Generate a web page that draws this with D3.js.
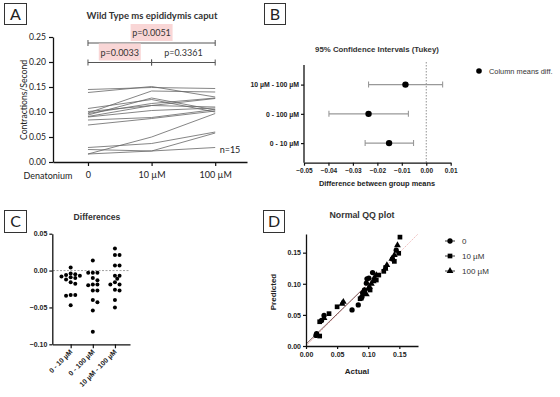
<!DOCTYPE html>
<html>
<head>
<meta charset="utf-8">
<script src="https://cdn.jsdelivr.net/npm/d3@7"></script>
<style>
  body { margin: 0; background: #fff; }
  svg { display: block; }
</style>
</head>
<body>
<div id="chart"></div>
<script>
// ---- data ----
// Panel A: contractions/second for each animal at 0, 10 µM, 100 µM
const doseLabels = ['0', '10 µM', '100 µM'];
const yTicksA = [0, 0.05, 0.10, 0.15, 0.20, 0.25];
const contractions = [
  [0.145, 0.149, 0.147],
  [0.139, 0.151, 0.130],
  [0.098, 0.142, 0.140],
  [0.107, 0.125, 0.100],
  [0.094, 0.128, 0.104],
  [0.101, 0.113, 0.127],
  [0.097, 0.117, 0.128],
  [0.091, 0.113, 0.110],
  [0.090, 0.103, 0.108],
  [0.084, 0.089, 0.105],
  [0.074, 0.087, 0.102],
  [0.016, 0.050, 0.097],
  [0.029, 0.037, 0.060],
  [0.025, 0.022, 0.058],
  [0.016, 0.022, 0.029]
];
// multiple comparisons brackets (level = height in data units)
const comparisons = [
  { from: 0, to: 2, label: 'p=0.0051', highlight: true, level: 0.238 },
  { from: 0, to: 1, label: 'p=0.0033', highlight: true, level: 0.199 },
  { from: 1, to: 2, label: 'p=0.3361', highlight: false, level: 0.199 }
];

// Panel B: Tukey 95% CI
const pairLabels = ['10 µM - 100 µM', '0 - 100 µM', '0 - 10 µM'];
const meanDiff = [-0.0085, -0.0236, -0.0152];
const ciLow = [-0.0236, -0.0398, -0.0250];
const ciHigh = [0.0067, -0.0073, -0.0052];
const xTicksB = [-0.05, -0.04, -0.03, -0.02, -0.01, 0.00, 0.01];

// Panel C: paired differences
const diffLabels = ['0 - 10 µM', '0 - 100 µM', '10 µM - 100 µM'];
const diff0_10 = [0.004, -0.004, -0.005, -0.006, -0.007, -0.008, -0.009, -0.010, -0.012, -0.016, -0.018, -0.033, -0.033, -0.034, -0.047];
const diff0_100 = [0.0135, -0.003, -0.003, -0.003, -0.010, -0.013, -0.019, -0.019, -0.020, -0.027, -0.027, -0.040, -0.043, -0.054, -0.083];
const diff10_100 = [0.030, 0.021, 0.021, 0.007, 0.007, -0.007, -0.007, -0.011, -0.016, -0.019, -0.019, -0.026, -0.027, -0.040, -0.050];
const yTicksC = [-0.10, -0.05, 0.00, 0.05];

// Panel D: normal QQ plot, [actual, predicted]
const qq0 = [[0.017, 0.020], [0.016, 0.017], [0.025, 0.041], [0.029, 0.049], [0.074, 0.058], [0.084, 0.066], [0.090, 0.079], [0.091, 0.085], [0.094, 0.090], [0.097, 0.101], [0.098, 0.108], [0.101, 0.109], [0.107, 0.118], [0.139, 0.140], [0.145, 0.154]];
const qq10 = [[0.022, 0.016], [0.022, 0.039], [0.037, 0.052], [0.050, 0.063], [0.087, 0.076], [0.089, 0.077], [0.093, 0.086], [0.103, 0.090], [0.113, 0.106], [0.117, 0.114], [0.125, 0.120], [0.128, 0.126], [0.142, 0.136], [0.149, 0.149], [0.151, 0.175]];
const qq100 = [[0.029, 0.045], [0.058, 0.068], [0.060, 0.071], [0.097, 0.083], [0.100, 0.092], [0.102, 0.095], [0.105, 0.100], [0.108, 0.104], [0.110, 0.110], [0.113, 0.114], [0.127, 0.124], [0.130, 0.130], [0.138, 0.140], [0.142, 0.146], [0.147, 0.162]];
const qqTicks = [0, 0.05, 0.10, 0.15];
const identityLine = [[0, 0], [0.18, 0.18]];
const fitLine = [[0, 0.003], [0.095, 0.095]];

// ---- drawing ----
const calibri = 'Lato, "Open Sans", sans-serif';
const arial = '"Liberation Sans", Arial, sans-serif';
const f2 = d3.format('.2f');

const svg = d3.select('#chart').append('svg')
  .attr('width', 560)
  .attr('height', 397);

// panel letter boxes
const boxes = [
  { t: 'A', x: 4, y: 3, w: 22, h: 21 },
  { t: 'B', x: 264, y: 3, w: 21, h: 21 },
  { t: 'C', x: 4, y: 210, w: 22, h: 22 },
  { t: 'D', x: 263, y: 210, w: 21, h: 22 }
];
boxes.forEach(b => {
  svg.append('rect').attr('x', b.x + 0.5).attr('y', b.y + 0.5)
    .attr('width', b.w).attr('height', b.h)
    .attr('fill', '#fff').attr('stroke', '#333').attr('stroke-width', 1);
  svg.append('text').attr('x', b.x + b.w / 2 + 0.5).attr('y', b.y + b.h / 2 + 6)
    .attr('text-anchor', 'middle').attr('font-family', calibri)
    .attr('font-size', 16).attr('fill', '#222').text(b.t);
});

function styleAxis(g, font, size, weight) {
  g.select('.domain').attr('stroke', '#111').attr('stroke-width', 1.3);
  g.selectAll('.tick line').attr('stroke', '#111').attr('stroke-width', 1.2);
  g.selectAll('.tick text').attr('font-family', font).attr('font-size', size)
    .attr('font-weight', weight).attr('fill', '#222');
}

// ---------- Panel A ----------
{
  const x = d3.scaleLinear().domain([-0.55, 2.5]).range([53, 247]);
  const y = d3.scaleLinear().domain([0, 0.25]).range([162, 37]);
  const g = svg.append('g');

  g.append('text').attr('x', 152).attr('y', 19).attr('text-anchor', 'middle')
    .attr('font-family', calibri).attr('font-weight', 'bold').attr('font-size', 9.5)
    .attr('fill', '#333').text('Wild Type ms epididymis caput');

  const line = d3.line().x((d, i) => x(i)).y(d => y(d));
  g.selectAll('.subject').data(contractions).enter().append('path')
    .attr('class', 'subject')
    .attr('d', line)
    .attr('fill', 'none')
    .attr('stroke', '#666')
    .attr('stroke-width', 0.8);

  const ya = g.append('g').attr('transform', 'translate(53,0)')
    .call(d3.axisLeft(y).tickValues(yTicksA).tickFormat(f2).tickSize(4).tickSizeOuter(0).tickPadding(3));
  styleAxis(ya, calibri, 8.6, 'normal');

  const xa = g.append('g').attr('transform', 'translate(0,162)')
    .call(d3.axisBottom(x).tickValues([0, 1, 2]).tickFormat(i => doseLabels[i]).tickSize(4).tickSizeOuter(0).tickPadding(6));
  styleAxis(xa, calibri, 9, 'normal');

  g.append('text').attr('x', 48).attr('y', 178.5).attr('text-anchor', 'middle')
    .attr('font-family', calibri).attr('font-size', 9).attr('fill', '#222').text('Denatonium');

  g.append('text').attr('transform', 'translate(27,100) rotate(-90)')
    .attr('text-anchor', 'middle').attr('font-family', calibri).attr('font-size', 8.6)
    .attr('fill', '#222').text('Contractions/Second');

  g.append('text').attr('x', 230).attr('y', 153).attr('text-anchor', 'middle')
    .attr('font-family', calibri).attr('font-size', 9).attr('fill', '#222').text('n=15');

  // comparison brackets
  comparisons.forEach(c => {
    const x1 = x(c.from), x2 = x(c.to), yy = y(c.level);
    g.append('path')
      .attr('d', `M${x1},${yy - 3}V${yy + 3}M${x1},${yy}H${x2}M${x2},${yy - 3}V${yy + 3}`)
      .attr('fill', 'none').attr('stroke', '#555').attr('stroke-width', 1);
    const cx = (x1 + x2) / 2;
    if (c.highlight) {
      g.append('rect').attr('x', cx - 21).attr('y', yy - 19)
        .attr('width', 42).attr('height', 17).attr('fill', '#f9d6d6');
    }
    g.append('text').attr('x', cx).attr('y', yy - 7).attr('text-anchor', 'middle')
      .attr('font-family', calibri).attr('font-size', 9).attr('fill', '#333').text(c.label);
  });
}

// ---------- Panel B ----------
{
  const x = d3.scaleLinear().domain([-0.05, 0.01]).range([304, 450.7]);
  const y = d3.scalePoint().domain(pairLabels).range([65, 162.7]).padding(0.67);
  const g = svg.append('g');

  g.append('text').attr('x', 377).attr('y', 52).attr('text-anchor', 'middle')
    .attr('font-family', arial).attr('font-weight', 'bold').attr('font-size', 7.8)
    .attr('fill', '#333').text('95% Confidence Intervals (Tukey)');

  // zero reference
  g.append('line').attr('x1', x(0)).attr('x2', x(0)).attr('y1', 62).attr('y2', 162.7)
    .attr('stroke', '#777').attr('stroke-width', 0.8).attr('stroke-dasharray', '1.5,1.5');

  const rows = pairLabels.map((p, i) => ({ p, m: meanDiff[i], lo: ciLow[i], hi: ciHigh[i] }));
  g.selectAll('.ci').data(rows).enter().append('path')
    .attr('class', 'ci')
    .attr('d', d => {
      const yy = y(d.p);
      return `M${x(d.lo)},${yy - 3}V${yy + 3}M${x(d.lo)},${yy}H${x(d.hi)}M${x(d.hi)},${yy - 3}V${yy + 3}`;
    })
    .attr('fill', 'none').attr('stroke', '#999').attr('stroke-width', 1.1);
  g.selectAll('.mean').data(rows).enter().append('circle')
    .attr('class', 'mean')
    .attr('cx', d => x(d.m)).attr('cy', d => y(d.p)).attr('r', 3.2).attr('fill', '#000');

  const xa = g.append('g').attr('transform', 'translate(0,162.7)')
    .call(d3.axisBottom(x).tickValues(xTicksB).tickFormat(f2).tickSize(3).tickSizeOuter(0).tickPadding(3));
  styleAxis(xa, arial, 6.5, 'bold');
  const ya = g.append('g').attr('transform', 'translate(304,0)')
    .call(d3.axisLeft(y).tickSize(3).tickSizeOuter(0).tickPadding(2));
  ya.select('.domain').attr('d', 'M0,65V162.7');
  styleAxis(ya, arial, 6.9, 'bold');

  g.append('text').attr('x', 377).attr('y', 186).attr('text-anchor', 'middle')
    .attr('font-family', arial).attr('font-weight', 'bold').attr('font-size', 7.4)
    .attr('fill', '#222').text('Difference between group means');

  g.append('circle').attr('cx', 479).attr('cy', 71).attr('r', 2.8).attr('fill', '#000');
  g.append('text').attr('x', 489).attr('y', 73.5).attr('font-family', arial)
    .attr('font-size', 7.4).attr('fill', '#333').text('Column means diff.');
}

// ---------- Panel C ----------
{
  const x = d3.scaleLinear().domain([-0.83, 2.68]).range([52.3, 130]);
  const y = d3.scaleLinear().domain([-0.10, 0.05]).range([344.3, 233.7]);
  const g = svg.append('g');

  g.append('text').attr('x', 97).attr('y', 220).attr('text-anchor', 'middle')
    .attr('font-family', arial).attr('font-weight', 'bold').attr('font-size', 8.6)
    .attr('fill', '#333').text('Differences');

  g.append('line').attr('x1', 53).attr('x2', 130).attr('y1', y(0)).attr('y2', y(0))
    .attr('stroke', '#888').attr('stroke-width', 0.8).attr('stroke-dasharray', '2,1.5');

  // simple beeswarm so that equal values sit side by side
  function swarm(values, col) {
    const placed = [];
    values.slice().sort((a, b) => b - a).forEach(v => {
      const py = y(v);
      for (let k = 0; k < 20; k++) {
        const off = (k % 2 ? 1 : -1) * Math.ceil(k / 2) * 2.3;
        const px = x(col) + off;
        if (placed.every(p => Math.hypot(p.x - px, p.y - py) >= 3.3)) {
          placed.push({ x: px, y: py });
          break;
        }
      }
    });
    return placed;
  }
  [diff0_10, diff0_100, diff10_100].forEach((vals, col) => {
    g.selectAll(null).data(swarm(vals, col)).enter().append('circle')
      .attr('cx', d => d.x).attr('cy', d => d.y).attr('r', 2).attr('fill', '#000');
  });

  const ya = g.append('g').attr('transform', 'translate(52.3,0)')
    .call(d3.axisLeft(y).tickValues(yTicksC).tickFormat(f2).tickSize(3).tickSizeOuter(0).tickPadding(2));
  styleAxis(ya, arial, 7, 'bold');
  const xa = g.append('g').attr('transform', 'translate(0,344.3)')
    .call(d3.axisBottom(x).tickValues([0, 1, 2]).tickFormat(i => diffLabels[i]).tickSize(4).tickSizeOuter(0));
  styleAxis(xa, arial, 7, 'bold');
  xa.selectAll('.tick text')
    .attr('text-anchor', 'end')
    .attr('transform', 'translate(0,5) rotate(-45)')
    .attr('dx', -1).attr('dy', '0.5em').attr('y', 0);
}

// ---------- Panel D ----------
{
  const x = d3.scaleLinear().domain([0, 0.18]).range([306, 418]);
  const y = d3.scaleLinear().domain([0, 0.18]).range([346, 234]);
  const g = svg.append('g');

  g.append('text').attr('x', 362).attr('y', 218).attr('text-anchor', 'middle')
    .attr('font-family', arial).attr('font-weight', 'bold').attr('font-size', 8.8)
    .attr('fill', '#333').text('Normal QQ plot');

  const line = d3.line().x(d => x(d[0])).y(d => y(d[1]));
  g.append('path').attr('d', line(identityLine)).attr('fill', 'none')
    .attr('stroke', '#e8a0a0').attr('stroke-width', 0.7).attr('stroke-dasharray', '1.5,1');
  g.append('path').attr('d', line(fitLine)).attr('fill', 'none')
    .attr('stroke', '#5a3030').attr('stroke-width', 0.8);

  const groups = [
    { name: '0', data: qq0, sym: d3.symbolCircle, size: 22 },
    { name: '10 µM', data: qq10, sym: d3.symbolSquare, size: 22 },
    { name: '100 µM', data: qq100, sym: d3.symbolTriangle, size: 20 }
  ];
  groups.forEach(gr => {
    const sym = d3.symbol().type(gr.sym).size(gr.size);
    g.selectAll(null).data(gr.data).enter().append('path')
      .attr('d', sym)
      .attr('transform', d => `translate(${x(d[0])},${y(d[1])})`)
      .attr('fill', '#000');
  });

  const xa = g.append('g').attr('transform', 'translate(0,346)')
    .call(d3.axisBottom(x).tickValues(qqTicks).tickFormat(f2).tickSize(3).tickSizeOuter(0).tickPadding(3));
  styleAxis(xa, arial, 7, 'bold');
  const ya = g.append('g').attr('transform', 'translate(306,0)')
    .call(d3.axisLeft(y).tickValues(qqTicks).tickFormat(f2).tickSize(3).tickSizeOuter(0).tickPadding(2));
  styleAxis(ya, arial, 7, 'bold');

  g.append('text').attr('x', 357).attr('y', 374).attr('text-anchor', 'middle')
    .attr('font-family', arial).attr('font-weight', 'bold').attr('font-size', 8)
    .attr('fill', '#222').text('Actual');
  g.append('text').attr('transform', 'translate(276,292) rotate(-90)')
    .attr('text-anchor', 'middle').attr('font-family', arial).attr('font-weight', 'bold')
    .attr('font-size', 8).attr('fill', '#222').text('Predicted');

  // legend
  groups.forEach((gr, i) => {
    const ly = 241 + i * 15;
    g.append('line').attr('x1', 445).attr('x2', 455).attr('y1', ly).attr('y2', ly)
      .attr('stroke', '#000').attr('stroke-width', 0.8);
    g.append('path').attr('d', d3.symbol().type(gr.sym).size(gr.size)())
      .attr('transform', `translate(450,${ly})`).attr('fill', '#000');
    g.append('text').attr('x', 462).attr('y', ly + 3).attr('font-family', arial)
      .attr('font-size', 8).attr('fill', '#333').text(gr.name);
  });
}
</script>
</body>
</html>
